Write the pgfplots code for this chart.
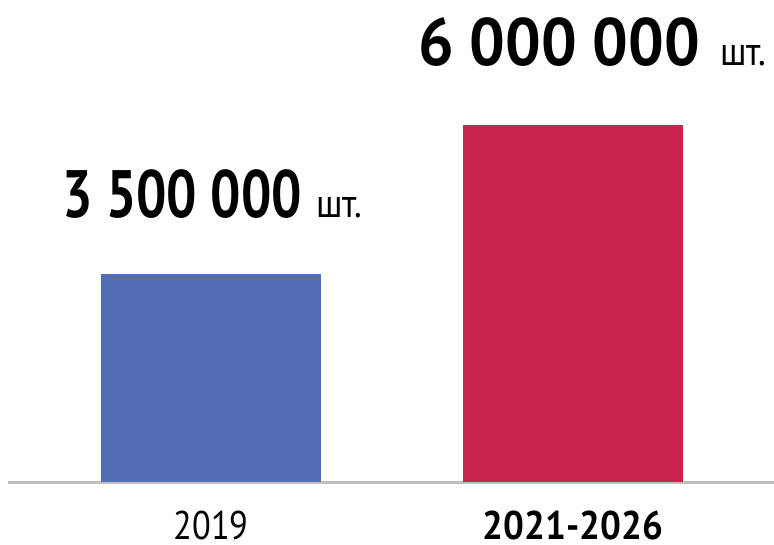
\documentclass[border=0pt]{standalone}
\usepackage{fontspec}
\setmainfont{PT Sans}
\usepackage{graphicx}
\usepackage{pgfplots}
\pgfplotsset{compat=1.18}
\definecolor{barblue}{HTML}{536DB4}
\definecolor{barred}{HTML}{C8234A}
\definecolor{baseline}{HTML}{BFBFBF}
\begin{document}
\begin{tikzpicture}
\path[use as bounding box, fill=white] (0,0) rectangle (774pt,544pt);
\begin{axis}[
  at={(8pt,62pt)}, anchor=south west,
  scale only axis, width=766pt, height=482pt,
  xmin=0, xmax=766, ymin=0, ymax=8.1,
  ybar, bar width=220pt, bar shift=0pt,
  axis x line*=bottom, axis y line=none,
  x axis line style={color=baseline, line width=3pt, -},
  xtick={203,565}, major tick length=0pt,
  xticklabels={{\scalebox{0.86}[1]{\fontsize{40}{40}\selectfont 2019}},{\scalebox{0.92}[1]{\fontsize{40}{40}\selectfont\bfseries 2021-2026}}},
  xticklabel style={anchor=base, yshift=-57pt, inner sep=0pt},
  clip=false,
]
\addplot[fill=barblue, draw=none,
  nodes near coords={\scalebox{0.80}[1]{\fontsize{67}{67}\selectfont\bfseries 3 500 000}\hspace{14pt}\scalebox{0.9}[1]{\fontsize{40}{40}\selectfont шт.}},
  every node near coord/.style={anchor=base west, xshift=-149pt, yshift=56pt, inner sep=0pt, black}]
  coordinates {(203,3.5)};
\addplot[fill=barred, draw=none,
  nodes near coords={\scalebox{0.94}[1]{\fontsize{67}{67}\selectfont\bfseries 6 000 000}\hspace{20pt}\scalebox{0.9}[1]{\fontsize{40}{40}\selectfont шт.}},
  every node near coord/.style={anchor=base west, xshift=-155pt, yshift=59pt, inner sep=0pt, black}]
  coordinates {(565,6)};
\end{axis}
\end{tikzpicture}
\end{document}
